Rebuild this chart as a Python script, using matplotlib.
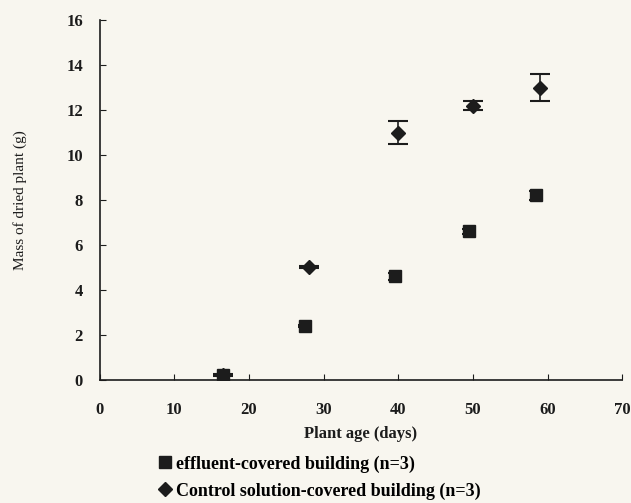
import matplotlib.pyplot as plt
from matplotlib.lines import Line2D

# data
age_effluent = [16.5, 27.5, 39.5, 49.5, 58.5]
mass_effluent = [0.2, 2.4, 4.6, 6.6, 8.2]
err_effluent = [0.05, 0.05, 0.15, 0.1, 0.2]

age_control = [16.5, 28, 40, 50, 59]
mass_control = [0.2, 5.0, 11.0, 12.2, 13.0]
err_control = [0.05, 0.05, 0.5, 0.2, 0.6]

x_ticks = [0, 10, 20, 30, 40, 50, 60, 70]
y_ticks = [0, 2, 4, 6, 8, 10, 12, 14, 16]

labels = ['effluent-covered building (n=3)',
          'Control solution-covered building (n=3)']

bg = '#f8f6ef'
ink = '#1c1c1c'
serif = ['Liberation Serif', 'DejaVu Serif']

fig = plt.figure(figsize=(6.31, 5.03), dpi=100, facecolor=bg)
ax = fig.add_axes([0.158, 0.245, 0.828, 0.715], facecolor=bg)

ax.errorbar(age_effluent, mass_effluent, yerr=err_effluent, fmt='s', ms=8,
            color=ink, ecolor=ink, elinewidth=1.2, capsize=5, capthick=1.5)
ax.errorbar(age_control, mass_control, yerr=err_control, fmt='D', ms=7,
            color=ink, ecolor=ink, elinewidth=1.2, capsize=7, capthick=1.5)

ax.set_xlim(0, 70)
ax.set_ylim(0, 16)
ax.set_xticks(x_ticks)
ax.set_yticks(y_ticks)
for s in ['top', 'right']:
    ax.spines[s].set_visible(False)
for s in ['left', 'bottom']:
    ax.spines[s].set_color(ink)
    ax.spines[s].set_linewidth(1.2)
ax.tick_params(direction='in', length=4, color=ink)
ax.tick_params(axis='x', pad=16)
ax.tick_params(axis='y', pad=12)
ax.set_xticklabels([str(v) for v in x_ticks], fontfamily=serif,
                   fontweight='bold', fontsize=12, color=ink)
ax.set_yticklabels([str(v) for v in y_ticks], fontfamily=serif,
                   fontweight='bold', fontsize=12, color=ink)

ax.set_xlabel('Plant age (days)', fontfamily=serif, fontweight='bold',
              fontsize=12, color=ink, labelpad=6)
ax.set_ylabel('Mass of dried plant (g)', fontfamily=serif, fontsize=11,
              color=ink, labelpad=28)

handles = [Line2D([], [], ls='none', marker='s', ms=8, color=ink),
           Line2D([], [], ls='none', marker='D', ms=7, color=ink)]
fig.legend(handles, labels, loc='upper left', bbox_to_anchor=(0.25, 0.095),
           frameon=False, prop={'family': serif, 'weight': 'bold', 'size': 13},
           handletextpad=0.2, handlelength=0.8, labelspacing=0.55,
           borderpad=0, borderaxespad=0)

fig.savefig('out.png', dpi=100, facecolor=bg)
